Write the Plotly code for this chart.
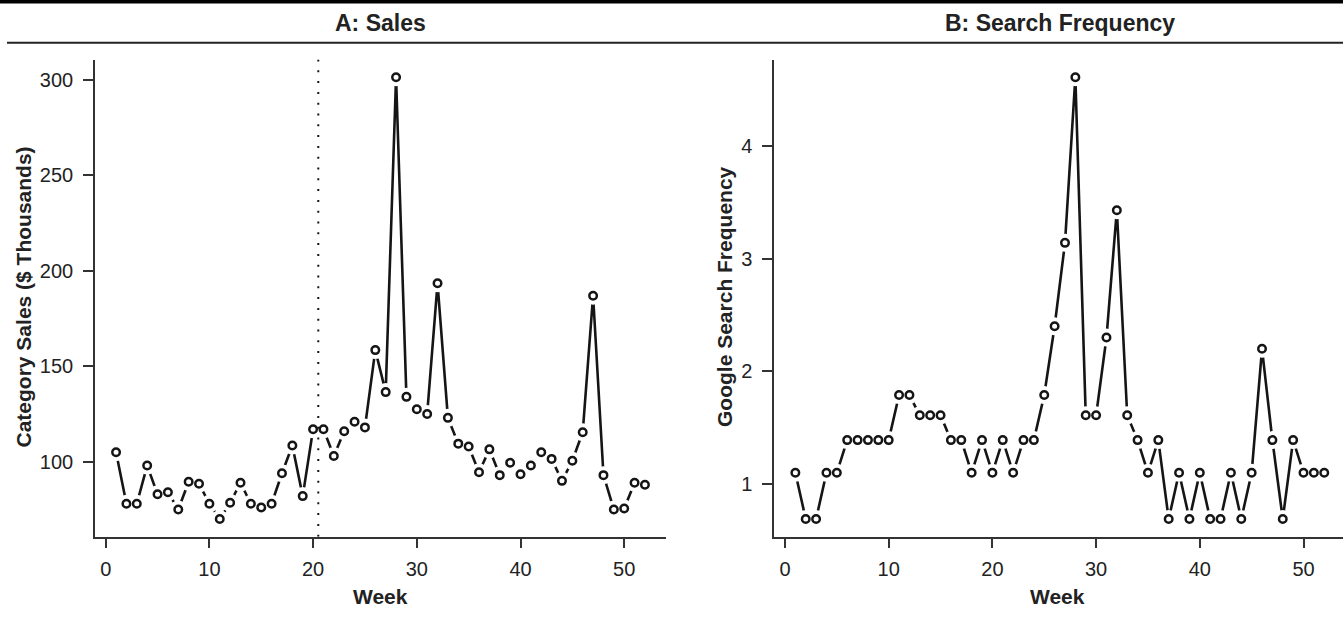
import plotly.graph_objects as go

# ---------------- data ----------------
weeks = list(range(1, 53))
sales = [105, 78, 78, 98, 83, 84, 75, 89.5, 88.5, 78,
         70, 78.5, 89, 78, 76, 78, 94, 108.5, 82, 117,
         117, 103, 116, 121, 118, 158.5, 136.5, 301.5, 134, 127.5,
         125, 193.5, 123, 109.5, 108, 94.5, 106.5, 93, 99.5, 93.5,
         98, 105, 101.5, 90, 100.5, 115.5, 187, 93, 75, 75.5,
         89, 88]
search = [1.10, 0.69, 0.69, 1.10, 1.10, 1.39, 1.39, 1.39, 1.39, 1.39,
          1.79, 1.79, 1.61, 1.61, 1.61, 1.39, 1.39, 1.10, 1.39, 1.10,
          1.39, 1.10, 1.39, 1.39, 1.79, 2.40, 3.14, 4.61, 1.61, 1.61,
          2.30, 3.43, 1.61, 1.39, 1.10, 1.39, 0.69, 1.10, 0.69, 1.10,
          0.69, 0.69, 1.10, 0.69, 1.10, 2.20, 1.39, 0.69, 1.39, 1.10,
          1.10, 1.10]
split_week = 20.5
x_ticks = [0, 10, 20, 30, 40, 50]
sales_ticks = [100, 150, 200, 250, 300]
search_ticks = [1, 2, 3, 4]
panel_titles = ["A: Sales", "B: Search Frequency"]
y_titles = ["Category Sales ($ Thousands)", "Google Search Frequency"]
x_title = "Week"

W, H = 1343, 625
FONT = "Liberation Sans, Arial, Helvetica, sans-serif"
INK = "#151515"
AX = "#333333"


def rng(vals):
    lo, hi = min(vals), max(vals)
    pad = 0.04 * (hi - lo)
    return [lo - pad, hi + pad]


def px(x):
    return x / W


def py(y):
    return 1 - y / H


fig = go.Figure()


def add_series(xv, yv, xa, ya):
    fig.add_trace(go.Scatter(x=xv, y=yv, mode="lines", xaxis=xa, yaxis=ya,
                             line=dict(color=INK, width=2.6), hoverinfo="skip"))
    fig.add_trace(go.Scatter(x=xv, y=yv, mode="markers", xaxis=xa, yaxis=ya,
                             marker=dict(symbol="circle", size=18, color="white",
                                         line=dict(width=0)), hoverinfo="skip"))
    fig.add_trace(go.Scatter(x=xv, y=yv, mode="markers", xaxis=xa, yaxis=ya,
                             marker=dict(symbol="circle-open", size=7.5, color=INK,
                                         line=dict(width=2.5, color=INK))))


add_series(weeks, sales, "x", "y")
add_series(weeks, search, "x2", "y2")

xr = rng(weeks)
ya_r = rng(sales)
yb_r = rng(search)

ydom = [py(536.7), py(59.5)]
xdomA = [px(94.9), px(666.1)]
xdomB = [px(774.2), 1.0]
# keep same px-per-week scale in B while ending at the page edge
scaleA = (666.1 - 94.9) / (xr[1] - xr[0])
xrB = [xr[0], xr[0] + (W - 774.2) / scaleA]

axis_common = dict(showline=True, linecolor=AX, linewidth=1.5, mirror=False,
                   ticks="outside", ticklen=10, tickwidth=1.5, tickcolor=AX,
                   showgrid=False, zeroline=False,
                   tickfont=dict(family=FONT, size=20, color="#222222"))

fig.update_layout(
    width=W, height=H,
    margin=dict(l=0, r=0, t=0, b=0),
    paper_bgcolor="white", plot_bgcolor="white",
    showlegend=False,
    xaxis=dict(domain=xdomA, range=xr, tickvals=x_ticks, anchor="y",
               ticklabelstandoff=4, **axis_common),
    yaxis=dict(domain=ydom, range=ya_r, tickvals=sales_ticks, anchor="x",
               ticklabelstandoff=6, **axis_common),
    xaxis2=dict(domain=xdomB, range=xrB, tickvals=x_ticks, anchor="y2",
                ticklabelstandoff=4, **axis_common),
    yaxis2=dict(domain=ydom, range=yb_r, tickvals=search_ticks, anchor="x2",
                ticklabelstandoff=6, **axis_common),
)

# dotted vertical line (drawn bottom -> top)
fig.add_shape(type="line", xref="x", yref="y", x0=split_week, x1=split_week,
              y0=ya_r[0], y1=ya_r[1], layer="above",
              line=dict(color=INK, width=2, dash="2px,8.8px"))

# header rules
fig.add_shape(type="rect", xref="paper", yref="paper", x0=0, x1=1,
              y0=py(3.4), y1=1, fillcolor="black", line=dict(width=0))
fig.add_shape(type="line", xref="paper", yref="paper", x0=px(7), x1=1,
              y0=py(42.8), y1=py(42.8), line=dict(color="#222222", width=2))

anns = []
centersA = (94.9 + 666.1) / 2
centersB = (774.2 + 1345.6) / 2
for t, cx in zip(panel_titles, [centersA, centersB]):
    anns.append(dict(text="<b>%s</b>" % t, x=px(cx), y=py(23.5), xref="paper", yref="paper",
                     xanchor="center", yanchor="middle", showarrow=False,
                     font=dict(family=FONT, size=23, color="#222222")))
for cx in [centersA, 1057]:
    anns.append(dict(text="<b>%s</b>" % x_title, x=px(cx), y=py(596), xref="paper", yref="paper",
                     xanchor="center", yanchor="middle", showarrow=False,
                     font=dict(family=FONT, size=21, color="#222222")))
for t, cx in zip(y_titles, [22.5, 724]):
    anns.append(dict(text="<b>%s</b>" % t, x=px(cx), y=py(297), xref="paper", yref="paper",
                     xanchor="center", yanchor="middle", showarrow=False, textangle=-90,
                     font=dict(family=FONT, size=21, color="#222222")))
fig.update_layout(annotations=anns)

fig.write_html("out.html")
